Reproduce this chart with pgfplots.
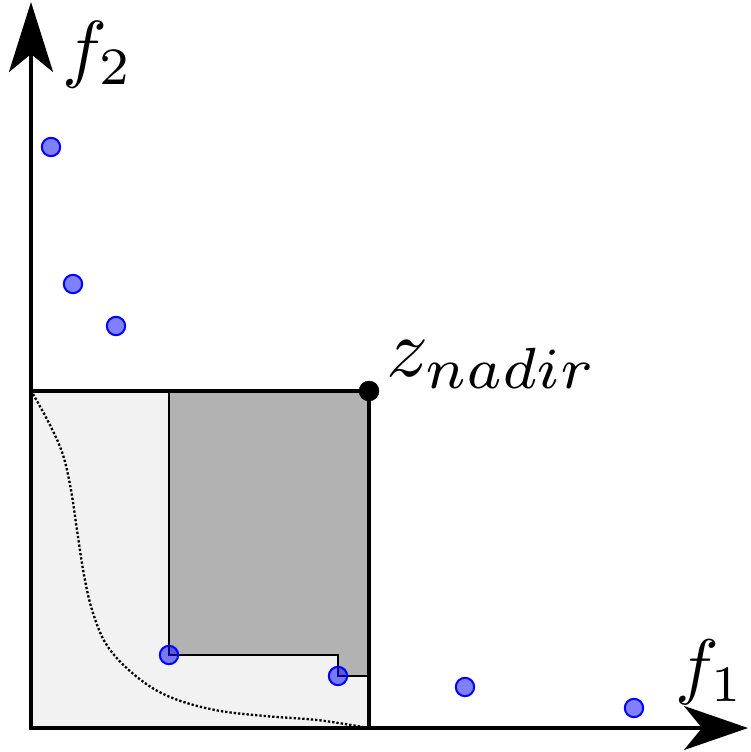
\documentclass[border=0pt]{standalone}
\usepackage{pgfplots}
\pgfplotsset{compat=1.18}
\usetikzlibrary{arrows.meta}
\begin{document}
\begin{tikzpicture}
\begin{axis}[
  scale only axis, width=751pt, height=752pt,
  xmin=0, xmax=751, ymin=0, ymax=752, y dir=reverse,
  hide axis, clip=false]
% frame (invisible) to keep the full picture area
\addplot[draw=none, mark=none] coordinates {(0,0) (751,752)};
% light rectangle
\addplot[fill=gray!10, draw=none] coordinates {(31,391) (369,391) (369,728) (31,728)} --cycle;
% dotted front
\addplot[black, line width=2.3pt, dash pattern=on 2.3pt off 2pt, smooth, tension=0.6] coordinates {
(33,394) (50,425) (63,455) (71,490) (77,530) (84,575) (93,613) (108,647) (137,677) (170,697) (215,710) (265,716) (317,720) (363,727)};
% dark region
\addplot[fill=gray!60, draw=black, line width=2pt] coordinates {(169,391) (369,391) (369,676) (338,676) (338,655) (169,655)} --cycle;
% rectangle outline
\addplot[black, line width=3.5pt] coordinates {(31,391) (369,391) (369,728)};
% axes
\addplot[black, line width=4pt, {Stealth[length=70pt, width=44pt, inset=18pt]}-{Stealth[length=64pt, width=44pt, inset=18pt]}] coordinates {(31,2) (31,728) (748,728)};
% points
\addplot[only marks, mark=*, mark size=9.2pt, mark options={draw=blue, fill=blue, fill opacity=0.5, line width=2pt}] coordinates {
(51,147) (73,284) (116,326) (169,655) (338,676) (465,687) (634,708)};
% nadir
\addplot[only marks, mark=*, mark size=10pt, black] coordinates {(369,391)};
\node[anchor=center, inner sep=0pt, scale=7.5] at (axis cs:98,55) {$f_2$};
\node[anchor=center, inner sep=0pt, scale=7.3] at (axis cs:710,672) {$f_1$};
\node[anchor=base west, inner sep=0pt, scale=8.3] at (axis cs:385,376) {$z_{nadir}$};
\end{axis}
\end{tikzpicture}
\end{document}
